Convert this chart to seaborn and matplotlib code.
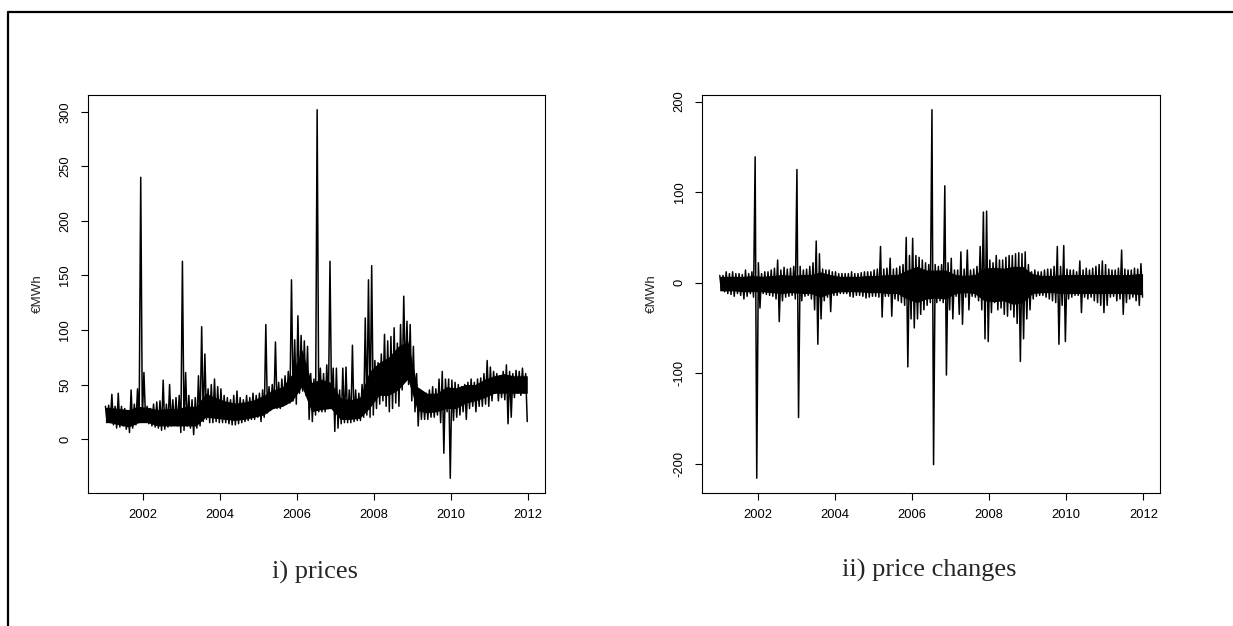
import matplotlib
matplotlib.use("Agg")
import matplotlib.pyplot as plt
from matplotlib.lines import Line2D
import numpy as np
import pandas as pd
import seaborn as sns

# ---------------- data -------------
start_year = 2001
# prices, EUR/MWh : monthly highest and lowest daily values, Jan 2001 .. Dec 2011
price_high = [
    30, 31, 41, 30, 42, 30, 28, 26, 45, 32, 46, 240,    # 2001
    61, 30, 28, 32, 34, 35, 54, 32, 50, 36, 38, 40,     # 2002
    163, 61, 40, 36, 38, 58, 103, 78, 46, 50, 55, 48,   # 2003
    46, 40, 38, 36, 40, 44, 38, 36, 40, 38, 42, 40,     # 2004
    42, 45, 105, 48, 50, 89, 52, 55, 58, 62, 146, 91,   # 2005
    113, 95, 90, 85, 60, 55, 302, 65, 60, 68, 163, 65,  # 2006
    65, 45, 65, 66, 45, 86, 45, 42, 50, 111, 146, 159,  # 2007
    72, 70, 78, 96, 90, 94, 102, 88, 105, 131, 108, 105,  # 2008
    85, 60, 45, 42, 42, 45, 48, 46, 55, 62, 55, 55,     # 2009
    54, 52, 50, 48, 50, 52, 55, 52, 55, 56, 60, 72,     # 2010
    66, 62, 60, 58, 62, 68, 62, 60, 63, 62, 65, 60,     # 2011
]
price_low = [
    16, 15, 13, 10, 11, 12, 9, 6, 10, 13, 15, 18,       # 2001
    18, 14, 12, 11, 10, 8, 9, 11, 12, 13, 12, 6,        # 2002
    8, 12, 10, 4, 10, 12, 16, 18, 15, 15, 16, 15,       # 2003
    15, 15, 14, 13, 13, 14, 15, 16, 17, 18, 18, 20,     # 2004
    16, 20, 24, 27, 28, 28, 28, 31, 32, 33, 35, 32,     # 2005
    42, 44, 40, 18, 16, 22, 25, 25, 25, 28, 30, 7,      # 2006
    10, 14, 15, 15, 15, 16, 17, 17, 20, 22, 20, 22,     # 2007
    28, 32, 35, 30, 25, 28, 33, 30, 45, 55, 50, 35,     # 2008
    25, 12, 18, 18, 18, 20, 20, 22, 15, -13, 25, -36,   # 2009
    17, 20, 22, 25, 18, 28, 30, 25, 30, 30, 32, 30,     # 2010
    35, 42, 35, 38, 36, 14, 20, 38, 42, 40, 42, 16,     # 2011
]
# prices: quarterly range of the dense (solid black) core of the band
price_core_high = [29, 28, 27, 30,  29, 27, 28, 28,  30, 30, 42, 38,
                   35, 33, 34, 36,  40, 45, 48, 60,  82, 52, 55, 52,
                   38, 36, 38, 62,  70, 75, 85, 90,  48, 42, 42, 48,
                   47, 50, 50, 55,  58, 60, 58, 58]
price_core_low = [15, 13, 11, 15,  15, 12, 12, 12,  12, 12, 20, 19,
                  18, 17, 18, 20,  22, 28, 30, 35,  48, 25, 27, 28,
                  18, 18, 19, 28,  40, 40, 45, 55,  26, 24, 25, 28,
                  28, 33, 35, 38,  42, 42, 42, 42]
# price changes, EUR/MWh : monthly largest rise and largest fall
change_high = [
    8, 8, 12, 10, 12, 10, 10, 9, 14, 10, 12, 139,       # 2001
    22, 10, 12, 12, 14, 16, 25, 14, 17, 15, 16, 18,     # 2002
    125, 18, 14, 15, 18, 22, 46, 32, 15, 14, 14, 12,    # 2003
    12, 10, 10, 10, 10, 12, 10, 10, 11, 12, 12, 12,     # 2004
    14, 15, 40, 15, 16, 27, 15, 16, 18, 20, 50, 30,     # 2005
    49, 30, 28, 25, 22, 20, 191, 20, 18, 20, 107, 22,   # 2006
    27, 14, 14, 34, 15, 36, 14, 15, 18, 40, 78, 79,     # 2007
    25, 22, 30, 25, 25, 28, 30, 30, 32, 33, 32, 34,     # 2008
    20, 12, 14, 12, 12, 14, 15, 15, 18, 40, 18, 41,     # 2009
    15, 14, 14, 12, 24, 14, 16, 14, 16, 18, 20, 24,     # 2010
    20, 15, 14, 14, 16, 36, 15, 14, 14, 16, 15, 21,     # 2011
]
change_low = [
    -8, -10, -12, -13, -15, -12, -14, -18, -15, -12, -16, -216,   # 2001
    -28, -12, -13, -14, -15, -18, -43, -20, -16, -15, -14, -18,   # 2002
    -149, -20, -15, -14, -18, -30, -68, -40, -20, -16, -32, -14,  # 2003
    -14, -12, -12, -12, -15, -16, -14, -14, -15, -17, -16, -15,   # 2004
    -15, -16, -38, -15, -15, -37, -18, -20, -22, -25, -93, -40,   # 2005
    -50, -40, -35, -30, -25, -22, -201, -22, -20, -22, -102, -30, # 2006
    -40, -15, -35, -46, -16, -30, -15, -16, -20, -30, -62, -65,   # 2007
    -33, -22, -30, -28, -35, -37, -30, -38, -45, -87, -62, -40,   # 2008
    -30, -18, -15, -14, -14, -16, -18, -20, -22, -68, -25, -65,   # 2009
    -18, -16, -14, -14, -33, -16, -18, -16, -20, -22, -25, -33,   # 2010
    -25, -16, -15, -20, -18, -35, -22, -18, -16, -20, -25, -16,   # 2011
]
# price changes: quarterly range of the dense core of the band
change_core_high = [7, 7, 7, 8,  7, 8, 9, 8,  9, 9, 12, 9,
                    7, 7, 7, 8,  8, 9, 9, 14,  18, 14, 14, 14,
                    9, 8, 9, 16,  17, 16, 18, 18,  10, 8, 8, 9,
                    9, 9, 9, 9,  9, 9, 9, 10]
change_core_low = [-9, -9, -10, -10,  -10, -11, -12, -11,  -12, -12, -16, -12,
                   -10, -10, -10, -11,  -11, -12, -12, -18,  -22, -18, -17, -18,
                   -12, -11, -12, -20,  -21, -20, -24, -22,  -12, -11, -11, -12,
                   -12, -12, -12, -12,  -12, -12, -12, -13]
year_ticks = [2002, 2004, 2006, 2008, 2010, 2012]
price_ticks = [0, 50, 100, 150, 200, 250, 300]
change_ticks = [-200, -100, 0, 100, 200]
unit_label = "€MWh"
panel_titles = ["i) prices", "ii) price changes"]


def month_series(high, low):
    t, v = [], []
    for i, (h, l) in enumerate(zip(high, low)):
        t += [start_year + (i + 0.25) / 12, start_year + (i + 0.75) / 12]
        v += [h, l]
    return pd.DataFrame({"t": t, "v": v})


def quarter_frame(high, low):
    t = [start_year + (i + 0.5) / 4 for i in range(len(high))]
    return pd.DataFrame({"t": t, "hi": high, "lo": low})


df_price = month_series(price_high, price_low)
df_change = month_series(change_high, change_low)
core_price = quarter_frame(price_core_high, price_core_low)
core_change = quarter_frame(change_core_high, change_core_low)

# ---------------- style ----------------
sns.set_style("white")
plt.rcParams.update({
    "axes.edgecolor": "black",
    "axes.linewidth": 0.8,
    "xtick.bottom": True,
    "ytick.left": True,
    "xtick.direction": "out",
    "ytick.direction": "out",
    "xtick.major.size": 5,
    "ytick.major.size": 5,
    "xtick.major.width": 0.8,
    "ytick.major.width": 0.8,
    "xtick.color": "black",
    "ytick.color": "black",
})
plt.rcParams["font.family"] = ["Liberation Sans", "DejaVu Sans"]

W, H = 1233, 626
fig = plt.figure(figsize=(W / 100, H / 100), dpi=100)


def px_axes(x0, x1, y0, y1):
    return fig.add_axes([x0 / W, 1 - y1 / H, (x1 - x0) / W, (y1 - y0) / H])


ax1 = px_axes(87.7, 545, 95, 493)
ax2 = px_axes(702, 1160.3, 95, 493)

for ax, df, core, ylim, yt in [
    (ax1, df_price, core_price, (-49.5, 315.5), price_ticks),
    (ax2, df_change, core_change, (-232.3, 207.3), change_ticks),
]:
    # dense core of the daily series
    ct = np.concatenate([[start_year + 0.02], core["t"], [start_year + 10.98]])
    chi = np.concatenate([[core["hi"].iloc[0]], core["hi"], [core["hi"].iloc[-1]]])
    clo = np.concatenate([[core["lo"].iloc[0]], core["lo"], [core["lo"].iloc[-1]]])
    ax.fill_between(ct, clo, chi, color="black", linewidth=0)
    # extremes
    sns.lineplot(data=df, x="t", y="v", ax=ax, color="black", linewidth=1.1,
                 estimator=None, sort=False)
    ax.set_xlim(2000.56, 2012.44)
    ax.set_ylim(*ylim)
    ax.set_xticks(year_ticks)
    ax.set_xticklabels([str(y) for y in year_ticks])
    ax.set_yticks(yt)
    ax.set_yticklabels([str(y) for y in yt])
    ax.set_xlabel("")
    ax.set_ylabel("")
    ax.tick_params(axis="both", labelsize=9.3, pad=6.8)
    for lab in ax.get_yticklabels():
        lab.set_rotation(90)
        lab.set_va("center")
    for s in ax.spines.values():
        s.set_visible(True)
        s.set_color("black")

# y axis labels
fig.text(37.6 / W, 1 - 294 / H, unit_label, rotation=90, ha="center",
         va="center", fontsize=9.6)
fig.text((37.6 + 614.3) / W, 1 - 294 / H, unit_label, rotation=90,
         ha="center", va="center", fontsize=9.6)

# panel captions
fig.text(315 / W, 1 - 572 / H, panel_titles[0], ha="center", va="center",
         fontsize=19, family=["Liberation Serif", "DejaVu Serif"])
fig.text(929 / W, 1 - 570 / H, panel_titles[1], ha="center", va="center",
         fontsize=19, family=["Liberation Serif", "DejaVu Serif"])

# outer frame (left and top border)
fig.add_artist(Line2D([8 / W, 1], [1 - 12 / H, 1 - 12 / H], color="black",
                      linewidth=1.6, transform=fig.transFigure))
fig.add_artist(Line2D([8 / W, 8 / W], [0, 1 - 12 / H], color="black",
                      linewidth=1.6, transform=fig.transFigure))

fig.savefig("out.png", dpi=100, facecolor="white")
